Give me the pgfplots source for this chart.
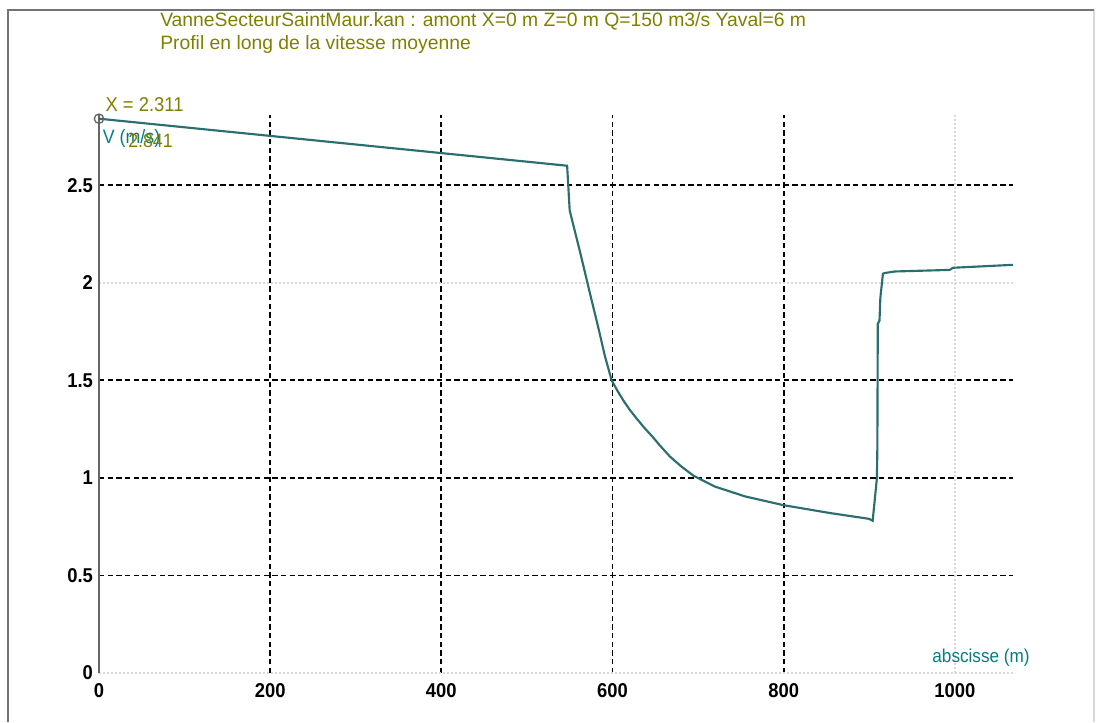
\documentclass[border=0pt]{standalone}
\usepackage{fontspec}
\setmainfont{Liberation Sans}[FakeStretch=0.92]
\newfontfamily\titlefont{Liberation Sans}
\usepackage{pgfplots}
\pgfplotsset{compat=1.18}
\definecolor{olivet}{RGB}{128,128,0}
\definecolor{tealt}{RGB}{0,128,128}
\definecolor{curvec}{RGB}{42,110,110}

\pgfplotstableread{
x v
0 2.841
547 2.60
550 2.37
562 2.16
574 1.94
584 1.76
591 1.627
599 1.50
606 1.445
613 1.395
620 1.35
629 1.30
638 1.253
647 1.21
655 1.168
667 1.11
680 1.06
695 1.01
720 0.955
755 0.905
800 0.86
854 0.82
900 0.79
904 0.78
909 1.00
909.5 1.156
910 1.79
912 1.806
913 1.923
916 2.046
918 2.05
930 2.058
994 2.066
998 2.077
1068 2.092
}\velocity

\begin{document}
\begin{tikzpicture}
\useasboundingbox (0pt,0pt) rectangle (822.75pt,541.5pt);
\fill[white] (0pt,0pt) rectangle (822.75pt,541.5pt);
\draw[black!15, line width=1.2pt] (820.5pt,534pt) -- (820.5pt,0pt);
\draw[black!55, line width=1.5pt] (6pt,0pt) -- (6pt,534pt) -- (820.5pt,534pt);
\begin{axis}[
  at={(74.25pt,36.75pt)}, anchor=south west, scale only axis,
  width=685.5pt, height=418.5pt,
  xmin=0, xmax=1068, ymin=0, ymax=2.86,
  axis line style={draw=none},
  xtick={200,400,600,800}, extra x ticks={0,1000},
  ytick={0.5,1,1.5,2.5}, extra y ticks={0,2},
  grid=major,
  major grid style={black, line width=1.3pt, dash pattern=on 4pt off 2.5pt},
  extra tick style={major grid style={black!15, line width=1.1pt, dash pattern=on 1.5pt off 1.5pt}},
  major tick length=0pt,
  tick label style={font=\bfseries\fontsize{15}{15}\selectfont, black},
  /pgf/number format/assume math mode=true,
  /pgf/number format/1000 sep={},
  xticklabel style={yshift=-4pt},
  yticklabel style={xshift=-1pt},
  clip=false,
]
\draw[black!60, line width=1.5pt] (axis cs:0,0) -- (axis cs:0,2.86);
\addplot[curvec, line width=1.6pt] table[x=x, y=v] {\velocity};
\addplot[only marks, mark=o, mark size=3.5pt, black!60, mark options={line width=1pt}] coordinates {(0,2.841)};
\end{axis}
\node[anchor=base west, inner sep=0pt, olivet, font=\titlefont\fontsize{14.5}{14.5}\selectfont] at (120pt,521.25pt) {VanneSecteurSaintMaur.kan : amont X=0 m Z=0 m Q=150 m3/s Yaval=6 m};
\node[anchor=base west, inner sep=0pt, olivet, font=\titlefont\fontsize{14.5}{14.5}\selectfont] at (120pt,504pt) {Profil en long de la vitesse moyenne};
\node[anchor=base west, inner sep=0pt, olivet, font=\fontsize{15}{15}\selectfont] at (79pt,458pt) {X = 2.311};
\node[anchor=base west, inner sep=0pt, tealt, font=\fontsize{14.5}{14.5}\selectfont] at (77pt,434pt) {V (m/s)};
\node[anchor=base west, inner sep=0pt, olivet, font=\fontsize{14.5}{14.5}\selectfont] at (96pt,430.5pt) {2.841};
\node[anchor=base east, inner sep=0pt, tealt, font=\fontsize{14}{14}\selectfont] at (772.5pt,45pt) {abscisse (m)};
\end{tikzpicture}
\end{document}
